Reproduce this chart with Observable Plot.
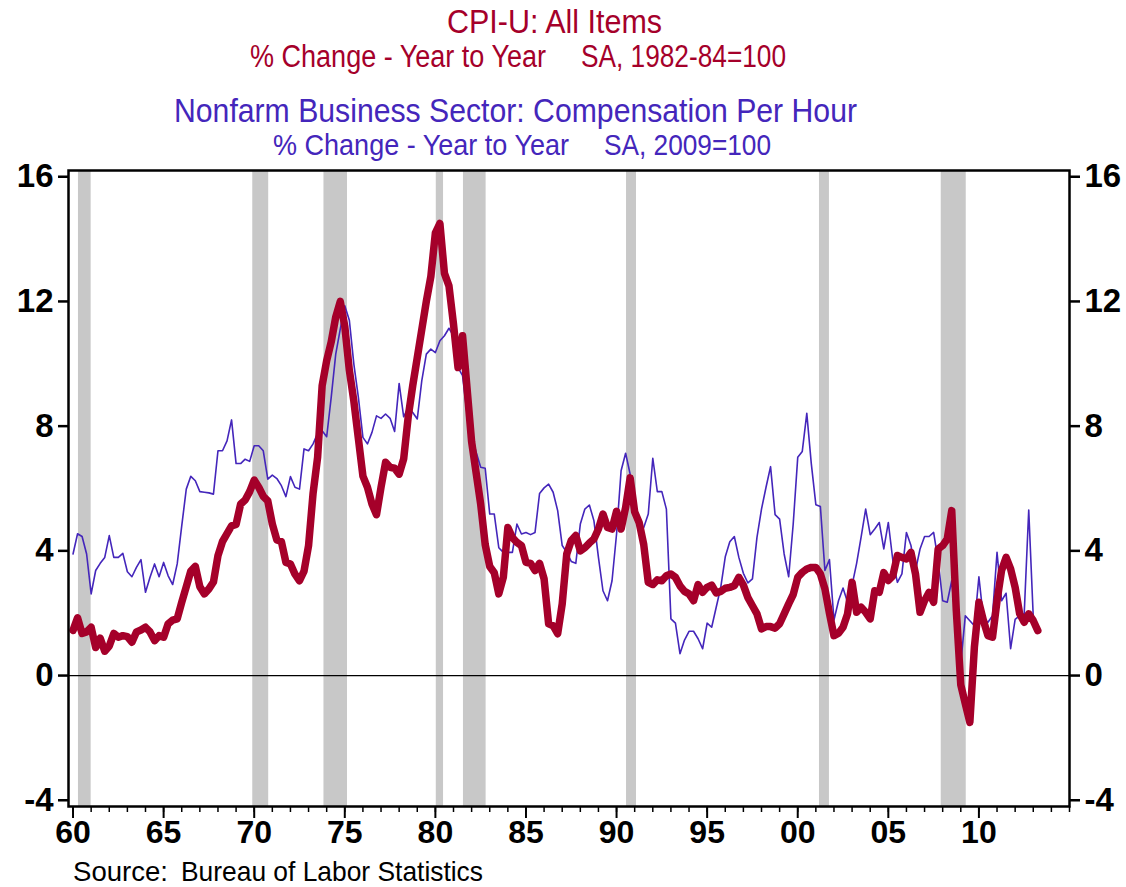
<!DOCTYPE html>
<html><head><meta charset="utf-8">
<script src="https://cdn.jsdelivr.net/npm/d3@7"></script>
<script src="https://cdn.jsdelivr.net/npm/@observablehq/plot@0.6"></script>
<style>
body{margin:0;background:#fff;width:1126px;height:887px;overflow:hidden;position:relative;font-family:"Liberation Sans",Arial,sans-serif}
#head{position:absolute;left:0;top:0;z-index:2}
#chart{position:absolute;left:0;top:140px;z-index:1}
#foot{position:absolute;left:0;top:850px;z-index:2}
svg text.t{font-family:"Liberation Sans",Arial,sans-serif}
</style></head><body>
<div id="chart"></div>
<svg id="head" width="1126" height="165"></svg>
<svg id="foot" width="1126" height="37"></svg>
<script>
// Quarterly year-over-year % changes, first value = 1960 Q1
const cpiStart = 1960;
const cpiValues = [
 1.45,1.85,1.35,1.4, 1.55,0.9,1.2,0.78, 0.95,1.35,1.23,1.28, 1.25,1.07,1.4,1.46,
 1.55,1.4,1.12,1.28, 1.23,1.66,1.78,1.82, 2.35,2.85,3.35,3.5, 2.85,2.62,2.78,3.0,
 3.85,4.3,4.55,4.8, 4.85,5.5,5.63,5.9, 6.27,6.04,5.75,5.6, 4.86,4.35,4.3,3.63,
 3.58,3.25,3.04,3.35, 4.17,5.85,7.0,9.3, 10.1,10.7,11.5,12.0, 11.2,9.8,8.8,7.6,
 6.4,6.04,5.5,5.16, 6.04,6.84,6.68,6.65, 6.46,6.95,8.3,9.3, 10.2,11.1,12.0,12.8,
 14.2,14.5,12.9,12.5, 11.27,9.88,10.9,9.2, 7.5,6.5,5.5,4.2, 3.5,3.3,2.62,3.15,
 4.75,4.43,4.27,4.17, 3.63,3.6,3.37,3.6, 3.1,1.66,1.6,1.34, 2.3,3.9,4.33,4.49,
 4.0,4.1,4.25,4.38, 4.7,5.18,4.75,4.7, 5.27,4.7,5.39,6.34, 5.25,4.9,4.2,2.99,
 2.92,3.07,3.04,3.2, 3.26,3.15,2.88,2.7, 2.62,2.4,2.92,2.67, 2.83,2.9,2.65,2.7,
 2.8,2.83,2.88,3.15, 2.9,2.5,2.24,1.98, 1.5,1.57,1.57,1.52, 1.66,1.98,2.3,2.6,
 3.15,3.31,3.42,3.47, 3.47,3.26,2.78,2.0, 1.28,1.36,1.55,1.98, 2.99,2.03,2.19,2.03,
 1.82,2.72,2.67,3.3, 3.05,3.2,3.85,3.79, 3.74,3.95,3.26,2.03, 2.4,2.67,2.35,4.06,
 4.17,4.38,5.29,2.1, -0.3,-0.91,-1.5,0.91, 2.35,1.76,1.28,1.23, 2.4,3.37,3.79,3.42,
 2.83,1.98,1.71,1.98, 1.76,1.44
];
const compStart = 1960;
const compValues = [
 3.9,4.55,4.46,3.9, 2.62,3.37,3.6,3.79, 4.49,3.79,3.79,3.92, 3.33,3.17,3.47,3.72,
 2.67,3.15,3.58,3.17, 3.63,3.2,2.92,3.58, 4.8,5.98,6.39,6.25, 5.9,5.88,5.86,5.82,
 7.21,7.21,7.53,8.2, 6.8,6.8,6.94,6.87, 7.37,7.37,7.21,6.3, 6.43,6.32,6.09,5.74,
 6.38,6.04,5.98,7.27, 7.21,7.43,7.77,7.85, 7.66,8.92,10.31,11.11, 11.86,11.4,9.99,8.92,
 7.64,7.43,7.8,8.33, 8.25,8.39,8.25,7.83, 9.37,8.3,8.6,8.44, 8.23,9.46,10.31,10.47,
 10.36,10.74,10.9,11.14, 10.9,9.88,9.62,8.39, 7.75,7.16,6.68,6.65, 5.18,5.18,4.1,3.95,
 3.95,3.95,4.86,4.54, 4.59,4.52,4.59,5.84, 6.02,6.14,5.88,5.29, 4.17,3.95,3.66,3.6,
 4.86,5.34,5.47,4.97, 3.79,2.72,2.4,3.04, 4.54,6.57,7.13,6.46, 5.23,4.65,4.75,5.18,
 6.97,5.9,5.9,5.34, 1.82,1.68,0.7,1.14, 1.42,1.42,1.18,0.86, 1.68,1.55,2.19,2.83,
 3.81,4.29,4.46,3.79, 3.28,2.97,3.1,4.43, 5.34,6.04,6.7,5.16, 5.02,3.9,3.17,4.86,
 7.0,7.19,8.41,6.79, 5.48,5.42,3.37,3.72, 1.78,2.4,2.81,2.35, 2.9,3.6,4.45,5.34,
 4.52,4.7,4.91,4.06, 4.91,3.69,2.99,3.26, 4.59,4.17,3.37,4.06, 4.46,4.46,4.59,3.69,
 2.4,2.35,3.04,1.5, 0.4,1.92,1.76,1.6, 3.17,1.82,1.71,1.92, 3.95,2.4,2.64,0.86,
 1.8,1.92,1.98,5.31, 1.87
];
// NBER recessions (shaded)
const recessionStart = [1960.3, 1969.92, 1973.85, 1980.05, 1981.55, 1990.55, 2001.2, 2007.92];
const recessionEnd   = [1961.0, 1970.8, 1975.15, 1980.45, 1982.8, 1991.1, 2001.75, 2009.3];
// Axis ticks
const yTicks = [-4, 0, 4, 8, 12, 16];
const yTickLabels = ["-4", "0", "4", "8", "12", "16"];
const xMajorYears = [1960,1965,1970,1975,1980,1985,1990,1995,2000,2005,2010];
const xMajorLabels = ["60","65","70","75","80","85","90","95","00","05","10"];
const xMinorYears = d3.range(1960, 2016);
// Titles
const titleCPI = "CPI-U: All Items";
const subCPI = ["% Change - Year to Year", "SA, 1982-84=100"];
const titleComp = "Nonfarm Business Sector: Compensation Per Hour";
const subComp = ["% Change - Year to Year", "SA, 2009=100"];
const sourceText = ["Source:", "Bureau of Labor Statistics"];

const RED = "#a5002a", BLUE = "#4426bb";

const cpi = cpiValues.map((v, i) => ({t: cpiStart + i / 4, v}));
const comp = compValues.map((v, i) => ({t: compStart + i / 4, v}));
const recessions = recessionStart.map((s, i) => ({start: s, end: recessionEnd[i]}));

const FONT = "'Liberation Sans', Arial, sans-serif";
const yFmt = d => yTickLabels[yTicks.indexOf(d)];
const chart = Plot.plot({
  width: 1126, height: 715,
  marginLeft: 68, marginRight: 57, marginTop: 30, marginBottom: 49,
  x: {domain: [1959.75, 2015], label: null},
  y: {domain: [-4.2, 16.2], label: null},
  style: {fontFamily: FONT, background: "transparent", color: "#000", overflow: "visible"},
  marks: [
    Plot.rect(recessions, {x1: "start", x2: "end", fill: "#c8c8c8"}),
    Plot.ruleY([0], {stroke: "#000", strokeWidth: 1.2}),
    Plot.line(comp, {x: "t", y: "v", stroke: BLUE, strokeWidth: 1.6}),
    Plot.line(cpi, {x: "t", y: "v", stroke: RED, strokeWidth: 7.5, strokeLinejoin: "round", strokeLinecap: "round"}),
    Plot.frame({stroke: "#000", strokeWidth: 2.5}),
    Plot.axisY(yTicks, {anchor: "left", tickSize: 10, tickPadding: 5, strokeWidth: 2.5, fontSize: 33, fontWeight: "bold", tickFormat: yFmt, label: null}),
    Plot.axisY(yTicks, {anchor: "right", tickSize: 10, tickPadding: 5, strokeWidth: 2.5, fontSize: 33, fontWeight: "bold", tickFormat: yFmt, label: null}),
    Plot.axisX(xMinorYears, {anchor: "bottom", tickSize: 6, strokeWidth: 1.5, tickFormat: () => "", label: null}),
    Plot.axisX(xMajorYears, {anchor: "bottom", tickSize: 12, tickPadding: 2, strokeWidth: 2, fontSize: 32, fontWeight: "bold",
      tickFormat: d => xMajorLabels[xMajorYears.indexOf(d)], label: null})
  ]
});
document.getElementById("chart").appendChild(chart);

const NS = "http://www.w3.org/2000/svg";
function addText(svg, str, x, y, w, size, fill) {
  const t = document.createElementNS(NS, "text");
  t.setAttribute("class", "t");
  t.setAttribute("x", x); t.setAttribute("y", y);
  t.setAttribute("font-size", size);
  t.setAttribute("fill", fill);
  t.setAttribute("textLength", w);
  t.setAttribute("lengthAdjust", "spacingAndGlyphs");
  t.textContent = str;
  svg.appendChild(t);
}
const head = document.getElementById("head");
addText(head, titleCPI, 447, 33, 215, 32.5, RED);
addText(head, subCPI[0], 250, 67, 296, 31, RED);
addText(head, subCPI[1], 581, 67, 205, 31, RED);
addText(head, titleComp, 174, 121.5, 683, 33, BLUE);
addText(head, subComp[0], 273, 155, 296, 30, BLUE);
addText(head, subComp[1], 604, 155, 167, 30, BLUE);
const foot = document.getElementById("foot");
addText(foot, sourceText[0], 73, 31, 95, 28, "#000");
addText(foot, sourceText[1], 181, 31, 302, 28, "#000");
</script>
</body></html>
